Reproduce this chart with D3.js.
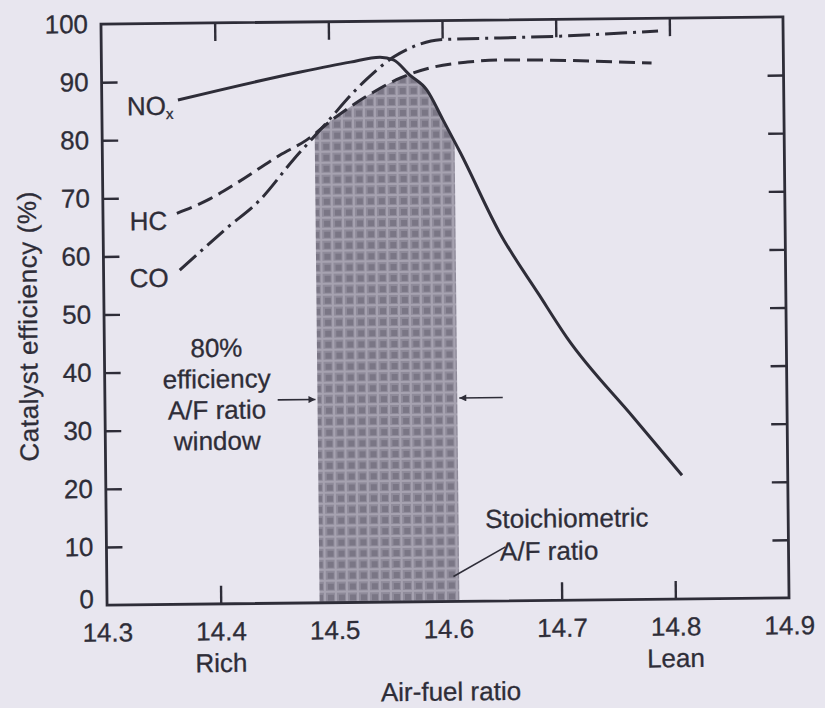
<!DOCTYPE html>
<html lang="en">
  <head>
    <meta charset="UTF-8" />
    <title>Catalyst efficiency vs air-fuel ratio</title>
    <style>
      body {
        margin: 0;
        background: #e8e6ef;
      }
      svg {
        display: block;
      }
      text {
        font-family: "Liberation Sans", Arial, sans-serif;
        fill: #2e2d38;
        stroke: #2e2d38;
        stroke-width: 0.3px;
      }
    </style>
  </head>
  <body>
    <svg id="svg" width="825" height="708"></svg>
    <script src="https://cdn.jsdelivr.net/npm/d3@7"></script>
    <script>
      // values
      const hcRatio = [14.365, 14.392, 14.418, 14.456, 14.48, 14.503, 14.533, 14.563, 14.592, 14.622, 14.651, 14.784];
      const hcEff = [67.3, 69.5, 72.4, 77.1, 79.7, 83.2, 87.1, 90.2, 92.0, 92.8, 93.1, 92.3];

      const coRatio = [14.367, 14.409, 14.438, 14.468, 14.498, 14.521, 14.533, 14.557, 14.578, 14.598, 14.651, 14.704, 14.79];
      const coEff = [57.5, 64.7, 69.4, 76.3, 82.7, 87.7, 90.0, 93.8, 95.8, 96.7, 96.9, 97.1, 97.8];

      const noxRatio = [14.367, 14.475, 14.519, 14.545, 14.557, 14.571, 14.586, 14.6, 14.615, 14.649, 14.683, 14.707, 14.765, 14.807];
      const noxEff = [86.8, 91.4, 93.0, 93.8, 93.3, 90.7, 88.1, 82.9, 77.2, 63.3, 52.6, 45.2, 31.3, 21.3];

      // 80% efficiency window and annotation anchors
      const windowRange = [14.487, 14.61];
      const arrowLevel = 35;
      const stoichPoint = [14.605, 4.3];
      const stoichLabelPoint = [14.651, 9.3];

      const xTickLabels = [14.3, 14.4, 14.5, 14.6, 14.7, 14.8, 14.9];
      const yTickLabels = [0, 10, 20, 30, 40, 50, 60, 70, 80, 90, 100];
      const xInnerTicks = [14.4, 14.5, 14.6, 14.7, 14.8];
      const yInnerTicks = [10, 20, 30, 40, 50, 60, 70, 80, 90];

      const margin = { top: 20.5, right: 39, bottom: 106.5, left: 104 };
      const width = 825 - margin.left - margin.right;
      const height = 708 - margin.top - margin.bottom;
      const ink = "#2e2d38";

      const root = d3.select("#svg");
      root.append("rect").attr("width", 825).attr("height", 708).attr("fill", "#e8e6ef");

      // halftone look of the shaded window
      const defs = root.append("defs");
      const pat = defs
        .append("pattern")
        .attr("id", "halftone")
        .attr("width", 11)
        .attr("height", 11)
        .attr("patternUnits", "userSpaceOnUse");
      pat.append("rect").attr("width", 11).attr("height", 11).attr("fill", "#8f8b9a");
      pat.append("rect").attr("x", 1).attr("y", 1).attr("width", 6).attr("height", 6).attr("fill", "#7a7685");
      pat.append("rect").attr("x", 8).attr("width", 2).attr("height", 11).attr("fill", "#a6a2b0");
      pat.append("rect").attr("y", 8).attr("width", 11).attr("height", 2).attr("fill", "#a6a2b0");

      // the scan is slightly tilted
      const svg = root
        .append("g")
        .attr("transform", "rotate(-0.6, 445, 311)")
        .append("g")
        .attr("transform", `translate(${margin.left},${margin.top})`);

      const x = d3.scaleLinear().domain([14.3, 14.9]).range([0, width]);
      const y = d3.scaleLinear().domain([0, 100]).range([height, 0]);

      const series = [
        { id: "hc", ratio: hcRatio, eff: hcEff, dash: "16,7" },
        { id: "co", ratio: coRatio, eff: coEff, dash: "22,6,3,6" },
        { id: "nox", ratio: noxRatio, eff: noxEff, dash: null },
      ];
      series.forEach((s) => {
        s.points = s.ratio.map((r, i) => [r, s.eff[i]]);
      });

      const line = d3
        .line()
        .x((d) => x(d[0]))
        .y((d) => y(d[1]))
        .curve(d3.curveMonotoneX);
      const area = d3
        .area()
        .x((d) => x(d[0]))
        .y0(height)
        .y1((d) => y(d[1]))
        .curve(d3.curveMonotoneX);

      // inward ticks on all four sides
      const tickStyle = (g) => {
        g.select(".domain").remove();
        g.selectAll("line").attr("stroke", ink).attr("stroke-width", 2.4);
      };
      svg.append("g").call(d3.axisLeft(y).tickValues(yInnerTicks).tickSize(-16).tickFormat("")).call(tickStyle);
      svg
        .append("g")
        .attr("transform", `translate(${width},0)`)
        .call(d3.axisRight(y).tickValues(yInnerTicks).tickSize(-16).tickFormat(""))
        .call(tickStyle);
      svg.append("g").call(d3.axisTop(x).tickValues(xInnerTicks).tickSize(-18).tickFormat("")).call(tickStyle);
      svg
        .append("g")
        .attr("transform", `translate(0,${height})`)
        .call(d3.axisBottom(x).tickValues(xInnerTicks).tickSize(-18).tickFormat(""))
        .call(tickStyle);

      // shaded window: under all three curves at once (nested clips)
      series.forEach((s) => {
        defs.append("clipPath").attr("id", "under-" + s.id).append("path").attr("d", area(s.points));
      });
      let holder = svg;
      series.forEach((s) => {
        holder = holder.append("g").attr("clip-path", `url(#under-${s.id})`);
      });
      holder
        .append("rect")
        .attr("x", x(windowRange[0]))
        .attr("y", 0)
        .attr("width", x(windowRange[1]) - x(windowRange[0]))
        .attr("height", height)
        .attr("fill", "url(#halftone)");

      // frame
      svg
        .append("rect")
        .attr("width", width)
        .attr("height", height)
        .attr("fill", "none")
        .attr("stroke", ink)
        .attr("stroke-width", 2.8);

      // curves
      svg
        .selectAll(".curve")
        .data(series)
        .enter()
        .append("path")
        .attr("class", "curve")
        .attr("d", (d) => line(d.points))
        .attr("fill", "none")
        .attr("stroke", ink)
        .attr("stroke-width", 3)
        .attr("stroke-dasharray", (d) => d.dash);

      // tick labels
      const labelStyle = (g) => {
        g.select(".domain").remove();
        g.attr("font-size", null).attr("font-family", null);
        g.selectAll("text").style("font-size", "26px");
      };
      const yLabels = svg
        .append("g")
        .call(d3.axisLeft(y).tickValues(yTickLabels).tickSize(0).tickPadding(13))
        .call(labelStyle);
      // the "0" sits a little above the corner in the original
      yLabels
        .selectAll(".tick")
        .filter((d) => d === 0)
        .select("text")
        .attr("y", -6);
      svg
        .append("g")
        .attr("transform", `translate(0,${height})`)
        .call(d3.axisBottom(x).tickValues(xTickLabels).tickSize(0).tickPadding(18).tickFormat(d3.format(".1f")))
        .call(labelStyle);

      const txt = (tx, ty, s, anchor) =>
        svg
          .append("text")
          .attr("x", tx)
          .attr("y", ty)
          .attr("text-anchor", anchor || "start")
          .style("font-size", "26px")
          .text(s);

      // axis titles
      txt(x(14.4), height + 68, "Rich", "middle");
      txt(x(14.8), height + 68, "Lean", "middle");
      txt(width / 2 + 2, height + 99, "Air-fuel ratio", "middle");
      svg
        .append("text")
        .attr("transform", `translate(-67,${height / 2 + 11}) rotate(-90)`)
        .attr("text-anchor", "middle")
        .style("font-size", "26px")
        .style("letter-spacing", "0.6px")
        .text("Catalyst efficiency (%)");

      // series labels
      const nox = txt(25, 91.5, "NO");
      nox.append("tspan").attr("dy", 4).style("font-size", "15px").text("x");
      txt(26.5, 206.5, "HC");
      txt(26, 263.5, "CO");

      // window annotation
      ["80%", "efficiency", "A/F ratio", "window"].forEach((s, i) => {
        txt(112, 334 + i * 31, s, "middle");
      });
      defs
        .append("marker")
        .attr("id", "head")
        .attr("viewBox", "0 0 10 10")
        .attr("refX", 10)
        .attr("refY", 5)
        .attr("markerWidth", 9)
        .attr("markerHeight", 7)
        .attr("markerUnits", "userSpaceOnUse")
        .attr("orient", "auto")
        .append("path")
        .attr("d", "M0,0 L10,5 L0,10 z")
        .attr("fill", ink);
      [
        [14.452, windowRange[0]],
        [14.65, windowRange[1]],
      ].forEach(([from, to]) => {
        svg
          .append("line")
          .attr("x1", x(from))
          .attr("x2", x(to) + (to > from ? -2 : 2))
          .attr("y1", y(arrowLevel))
          .attr("y2", y(arrowLevel))
          .attr("stroke", ink)
          .attr("stroke-width", 1.6)
          .attr("marker-end", "url(#head)");
      });

      // stoichiometric annotation
      svg
        .append("line")
        .attr("x1", x(stoichLabelPoint[0]))
        .attr("y1", y(stoichLabelPoint[1]))
        .attr("x2", x(stoichPoint[0]))
        .attr("y2", y(stoichPoint[1]))
        .attr("stroke", ink)
        .attr("stroke-width", 1.6);
      txt(379, 508, "Stoichiometric");
      txt(393.5, 540.5, "A/F ratio");
    </script>
  </body>
</html>
